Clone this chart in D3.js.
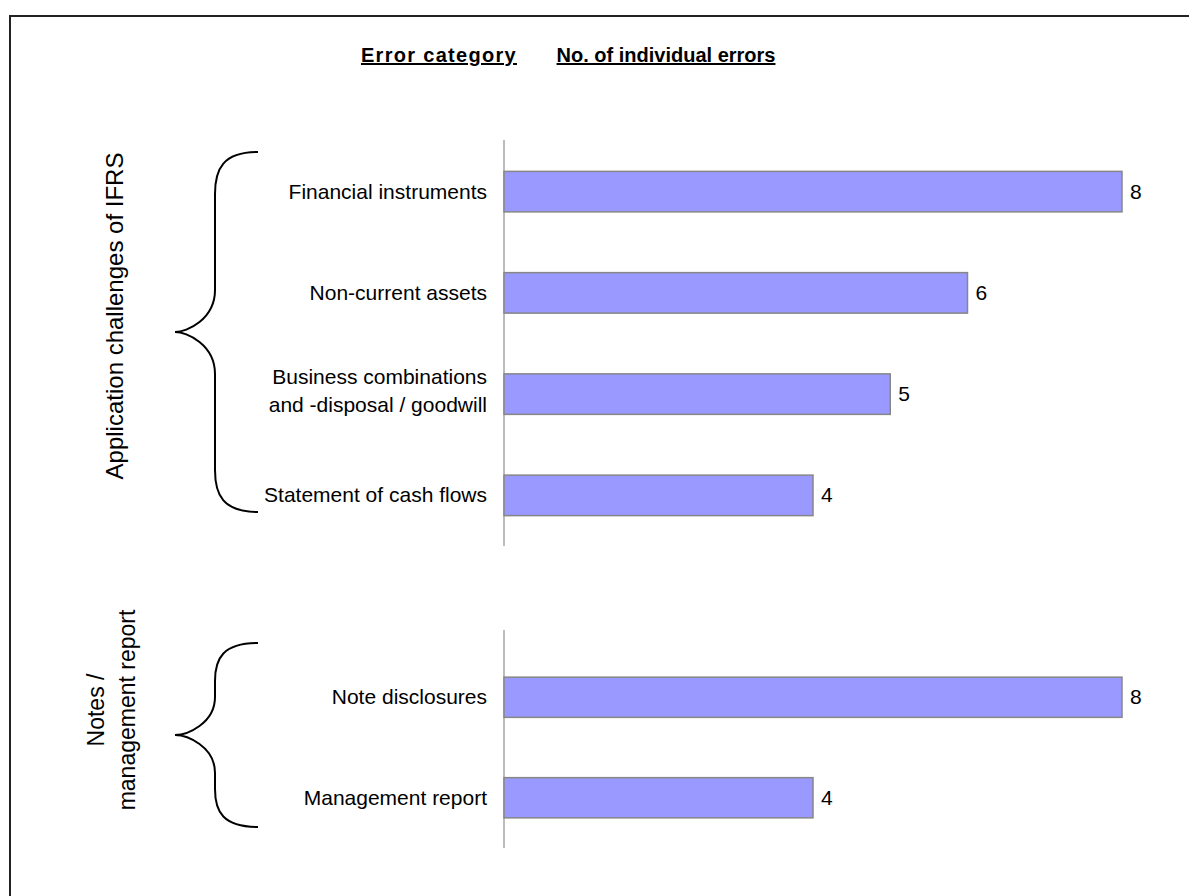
<!DOCTYPE html>
<html>
<head>
<meta charset="utf-8">
<script src="https://cdn.jsdelivr.net/npm/d3@7"></script>
<style>
  html, body { margin: 0; padding: 0; background: #fff; }
  svg { display: block; }
  text { font-family: "Liberation Sans", Arial, sans-serif; fill: #000; }
</style>
</head>
<body>
<svg id="chart" width="1189" height="896"></svg>
<script>
// Error categories and counts, two groups
const groupLabels = ["Application challenges of IFRS", ["Notes /", "management report"]];
const categoriesIFRS = ["Financial instruments", "Non-current assets",
  ["Business combinations", "and -disposal / goodwill"], "Statement of cash flows"];
const valuesIFRS = [8, 6, 5, 4];
const categoriesNotes = ["Note disclosures", "Management report"];
const valuesNotes = [8, 4];
const headers = ["Error category", "No. of individual errors"];
const xDomain = [0, 8];

const svg = d3.select("#chart");

// frame
svg.append("rect")
  .attr("x", 10).attr("y", 16)
  .attr("width", 1300).attr("height", 1000)
  .attr("fill", "none").attr("stroke", "#222").attr("stroke-width", 2);

// column headers
svg.append("text")
  .attr("x", 439).attr("y", 62)
  .attr("text-anchor", "middle")
  .attr("font-size", 20).attr("font-weight", "bold")
  .attr("letter-spacing", 1.3)
  .attr("text-decoration", "underline")
  .text(headers[0]);
svg.append("text")
  .attr("x", 666).attr("y", 62)
  .attr("text-anchor", "middle")
  .attr("font-size", 20).attr("font-weight", "bold")
  .attr("text-decoration", "underline")
  .text(headers[1]);

const x = d3.scaleLinear().domain(xDomain).range([504, 1122]);

function keyOf(c) { return Array.isArray(c) ? c.join(" ") : c; }

function drawGroup(cats, vals, range, axisTop) {
  const y = d3.scaleBand()
    .domain(cats.map(keyOf))
    .range(range)
    .paddingInner(0.6)
    .paddingOuter(0.3);

  // category axis line
  svg.append("line")
    .attr("x1", x(0)).attr("x2", x(0))
    .attr("y1", axisTop).attr("y2", range[1])
    .attr("stroke", "#a6a6a6").attr("stroke-width", 1.5);

  const data = cats.map((c, i) => ({ cat: c, key: keyOf(c), v: vals[i] }));

  svg.selectAll(null).data(data).enter().append("rect")
    .attr("x", x(0))
    .attr("y", d => y(d.key))
    .attr("width", d => x(d.v) - x(0))
    .attr("height", y.bandwidth())
    .attr("fill", "#9999ff")
    .attr("stroke", "#878787").attr("stroke-width", 1.5);

  // category labels
  data.forEach(d => {
    const cy = y(d.key) + y.bandwidth() / 2;
    const lines = Array.isArray(d.cat) ? d.cat : [d.cat];
    const lh = 28;
    const t = svg.append("text")
      .attr("text-anchor", "end")
      .attr("font-size", 21);
    lines.forEach((ln, j) => {
      t.append("tspan")
        .attr("x", 487)
        .attr("y", cy + 7 + (j - (lines.length - 1) / 2) * lh - (lines.length > 1 ? 3 : 0))
        .text(ln);
    });
  });

  // value labels
  svg.selectAll(null).data(data).enter().append("text")
    .attr("x", d => x(d.v) + 8)
    .attr("y", d => y(d.key) + y.bandwidth() / 2 + 7)
    .attr("font-size", 21)
    .text(d => d.v);
  return y;
}

drawGroup(categoriesIFRS, valuesIFRS, [141, 546], 140);
drawGroup(categoriesNotes, valuesNotes, [647, 848], 630);

// curly braces grouping the categories
function brace(top, bottom, xEnd, xMid, xTip, r) {
  const m = (top + bottom) / 2;
  const p = d3.path();
  p.moveTo(xEnd, top);
  p.bezierCurveTo(xMid + 8, top, xMid, top + r * 0.4, xMid, top + r);
  p.lineTo(xMid, m - r);
  p.bezierCurveTo(xMid, m - r * 0.3, xTip + 12, m, xTip, m);
  p.bezierCurveTo(xTip + 12, m, xMid, m + r * 0.3, xMid, m + r);
  p.lineTo(xMid, bottom - r);
  p.bezierCurveTo(xMid, bottom - r * 0.4, xMid + 8, bottom, xEnd, bottom);
  svg.append("path")
    .attr("d", p.toString())
    .attr("fill", "none").attr("stroke", "#000").attr("stroke-width", 2);
}
brace(152, 512, 258, 215, 175, 42);
brace(643, 827, 258, 215, 175, 38);

// group labels, rotated
svg.append("text")
  .attr("transform", "translate(123,316) rotate(-90)")
  .attr("text-anchor", "middle")
  .attr("font-size", 24)
  .text(groupLabels[0]);

const g2 = svg.append("text")
  .attr("transform", "translate(0,710) rotate(-90)")
  .attr("text-anchor", "middle")
  .attr("font-size", 23);
groupLabels[1].forEach((ln, j) => {
  g2.append("tspan").attr("x", 0).attr("y", 104 + j * 31).text(ln);
});
</script>
</body>
</html>
